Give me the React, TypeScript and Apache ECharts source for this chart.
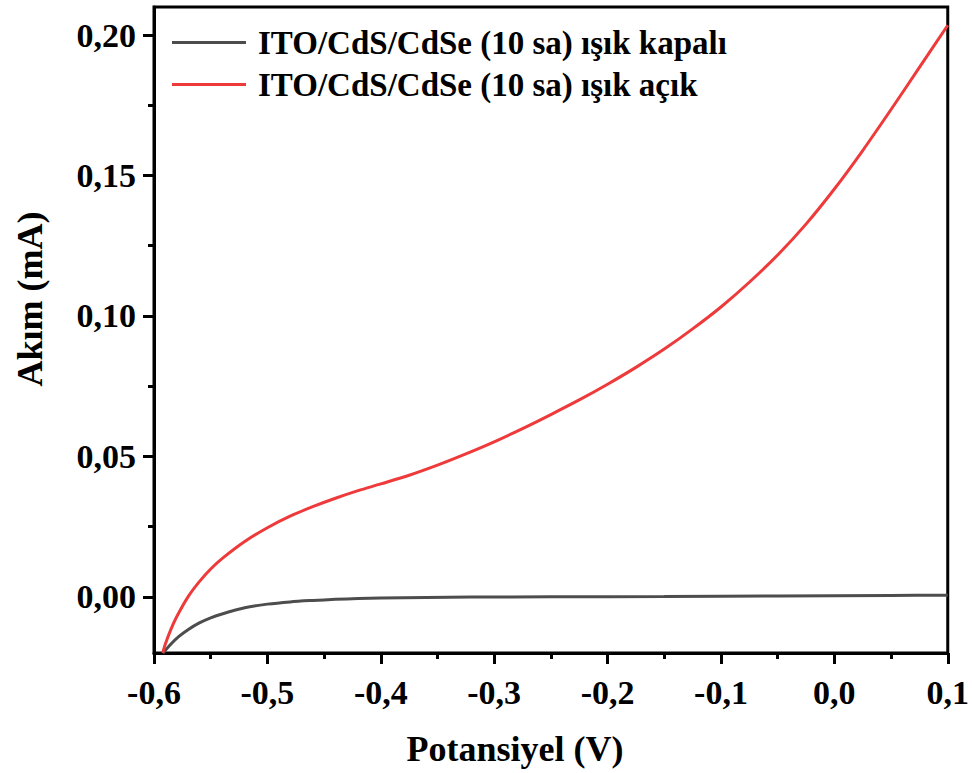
import React, { useEffect, useRef } from "react";
import * as echarts from "echarts";

// Potential (V) and current (mA) samples for the dark measurement
const darkPotential = [-0.592, -0.585, -0.578, -0.57, -0.56, -0.55, -0.54, -0.52, -0.5, -0.48, -0.46, -0.44, -0.42, -0.4, -0.36, -0.32, -0.25, -0.15, -0.05, 0.05, 0.1];
const darkCurrent = [-0.02, -0.0168, -0.0141, -0.0117, -0.0093, -0.0075, -0.0061, -0.0039, -0.0026, -0.0018, -0.0013, -0.0009, -0.0006, -0.0004, -0.0002, -0.0001, 0.0, 0.0001, 0.0003, 0.0005, 0.0006];

// Potential (V) and current (mA) samples under illumination
const lightPotential = [-0.5923, -0.59, -0.585, -0.58, -0.57, -0.56, -0.55, -0.54, -0.52, -0.5, -0.48, -0.46, -0.44, -0.42, -0.4, -0.375, -0.35, -0.325, -0.3, -0.275, -0.25, -0.225, -0.2, -0.175, -0.15, -0.125, -0.1, -0.075, -0.05, -0.025, 0.0, 0.025, 0.05, 0.075, 0.1];
const lightCurrent = [-0.02, -0.0168, -0.0115, -0.0071, 0.0, 0.0054, 0.0099, 0.0136, 0.0197, 0.0246, 0.0287, 0.0321, 0.0351, 0.0378, 0.0402, 0.0433, 0.0469, 0.0509, 0.0552, 0.0599, 0.0649, 0.0701, 0.0757, 0.0817, 0.0882, 0.0954, 0.1032, 0.112, 0.1217, 0.1327, 0.1452, 0.1589, 0.1735, 0.1885, 0.2035];

const seriesNames = ["ITO/CdS/CdSe (10 sa) ışık kapalı", "ITO/CdS/CdSe (10 sa) ışık açık"];
const seriesColors = ["#4d4d4d", "#ee3a3a"];
const xMinorTicks = [-0.55, -0.45, -0.35, -0.25, -0.15, -0.05, 0.05];
const yMajorTicks = [0, 0.05, 0.1, 0.15, 0.2];
const yMinorTicks = [0.025, 0.075, 0.125, 0.175];

const xTitle = "Potansiyel (V)";
const yTitle = "Akım (mA)";

const FONT = "'Liberation Serif', 'Times New Roman', serif";
const AXIS_COLOR = "#000";

const fmt = (v: number, digits: number) => {
  const n = Math.abs(v) < 1e-9 ? 0 : v;
  return n.toFixed(digits).replace(".", ",");
};

const labelStyle = {
  fontFamily: FONT,
  fontWeight: "bold",
  fontSize: 34,
  color: AXIS_COLOR,
};

export default function App() {
  const ref = useRef<HTMLDivElement>(null);

  useEffect(() => {
    if (!ref.current) return;
    const chart = echarts.init(ref.current, null, { renderer: "svg" });

    const dark = darkPotential.map((v, i) => [v, darkCurrent[i]]);
    const light = lightPotential.map((v, i) => [v, lightCurrent[i]]);

    chart.setOption({
      animation: false,
      backgroundColor: "#ffffff",
      grid: {
        left: 154,
        right: 22,
        top: 7,
        bottom: 120,
        show: true,
        borderColor: AXIS_COLOR,
        borderWidth: 3,
        backgroundColor: "transparent",
      },
      legend: {
        orient: "vertical",
        left: 172,
        top: 26,
        padding: 0,
        icon: "rect",
        itemWidth: 74,
        itemHeight: 3,
        itemGap: 9,
        data: seriesNames,
        textStyle: {
          fontFamily: FONT,
          fontWeight: "bold",
          fontSize: 33,
          color: AXIS_COLOR,
          padding: [0, 0, 0, 7],
        },
      },
      xAxis: [
        {
          type: "value",
          min: -0.6,
          max: 0.1,
          interval: 0.1,
          position: "bottom",
          axisLine: { show: true, onZero: false, lineStyle: { color: AXIS_COLOR, width: 3 } },
          axisTick: { show: true, length: 11, lineStyle: { color: AXIS_COLOR, width: 3 } },
          splitLine: { show: false },
          axisLabel: { ...labelStyle, margin: 22, formatter: (v: number) => fmt(v, 1) },
        },
        {
          type: "value",
          min: -0.6,
          max: 0.1,
          position: "bottom",
          offset: 0,
          axisLine: { show: false, onZero: false },
          axisTick: { show: true, length: 6, customValues: xMinorTicks, lineStyle: { color: AXIS_COLOR, width: 3 } },
          splitLine: { show: false },
          axisLabel: { show: false, customValues: xMinorTicks },
        },
      ],
      yAxis: [
        {
          type: "value",
          min: -0.02,
          max: 0.21,
          position: "left",
          axisLine: { show: true, onZero: false, lineStyle: { color: AXIS_COLOR, width: 3 } },
          axisTick: { show: true, length: 11, customValues: yMajorTicks, lineStyle: { color: AXIS_COLOR, width: 3 } },
          splitLine: { show: false },
          axisLabel: { ...labelStyle, margin: 18, customValues: yMajorTicks, formatter: (v: number) => fmt(v, 2) },
        },
        {
          type: "value",
          min: -0.02,
          max: 0.21,
          position: "left",
          offset: 0,
          axisLine: { show: false, onZero: false },
          axisTick: { show: true, length: 6, customValues: yMinorTicks, lineStyle: { color: AXIS_COLOR, width: 3 } },
          splitLine: { show: false },
          axisLabel: { show: false, customValues: yMinorTicks },
        },
      ],
      graphic: [
        {
          type: "text",
          x: 515,
          y: 749,
          style: {
            text: xTitle,
            fontFamily: FONT,
            fontWeight: "bold",
            fontSize: 36,
            fill: AXIS_COLOR,
            align: "center",
            verticalAlign: "middle",
          },
        },
        {
          type: "text",
          x: 30,
          y: 299,
          rotation: Math.PI / 2,
          style: {
            text: yTitle,
            fontFamily: FONT,
            fontWeight: "bold",
            fontSize: 36,
            fill: AXIS_COLOR,
            align: "center",
            verticalAlign: "middle",
          },
        },
      ],
      series: [
        {
          name: seriesNames[0],
          type: "line",
          xAxisIndex: 0,
          yAxisIndex: 0,
          data: dark,
          smooth: 0.3,
          symbol: "none",
          lineStyle: { color: seriesColors[0], width: 3 },
          itemStyle: { color: seriesColors[0] },
        },
        {
          name: seriesNames[1],
          type: "line",
          xAxisIndex: 0,
          yAxisIndex: 0,
          data: light,
          smooth: 0.3,
          symbol: "none",
          lineStyle: { color: seriesColors[1], width: 3 },
          itemStyle: { color: seriesColors[1] },
        },
      ],
    });

    return () => chart.dispose();
  }, []);

  return (
    <div
      ref={ref}
      style={{ position: "fixed", left: 0, top: 0, width: 972, height: 773, background: "#fff" }}
    />
  );
}
